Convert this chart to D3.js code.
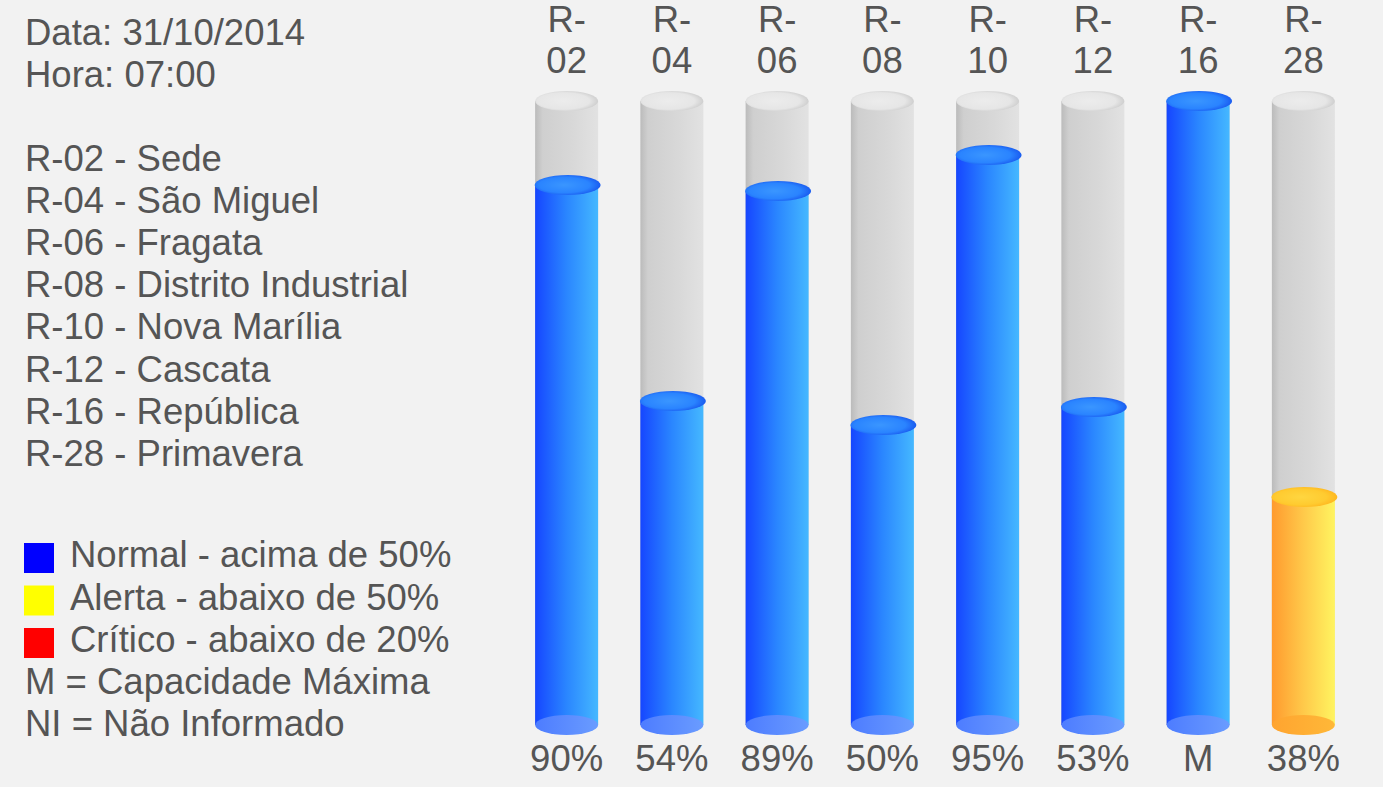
<!DOCTYPE html>
<html><head><meta charset="utf-8">
<script src="https://cdn.jsdelivr.net/npm/d3@7"></script>
<style>
html,body{margin:0;padding:0;background:#f2f2f2;}
svg{display:block;}
text{font-family:"Liberation Sans",Arial,sans-serif;fill:#555;}
</style></head>
<body>
<script>
const headerLines = ["Data: 31/10/2014", "Hora: 07:00"];
const names = ["R-02 - Sede","R-04 - São Miguel","R-06 - Fragata","R-08 - Distrito Industrial","R-10 - Nova Marília","R-12 - Cascata","R-16 - República","R-28 - Primavera"];
const legendLabels = ["Normal - acima de 50%","Alerta - abaixo de 50%","Crítico - abaixo de 20%"];
const notes = ["M = Capacidade Máxima","NI = Não Informado"];
const categories = ["R-02","R-04","R-06","R-08","R-10","R-12","R-16","R-28"];
const levels = [90,54,89,50,95,53,null,38]; // null = M (capacidade máxima)
const valueLabels = ["90%","54%","89%","50%","95%","53%","M","38%"];
const capacity = 104;

const W=1383,H=787;
const svg=d3.select("body").append("svg").attr("width",W).attr("height",H);
svg.append("rect").attr("width",W).attr("height",H).attr("fill","#f2f2f2");
const defs=svg.append("defs");
function grad(id,stops){
  const g=defs.append("linearGradient").attr("id",id).attr("x1","0%").attr("x2","100%").attr("y1","0%").attr("y2","0%");
  stops.forEach(s=>g.append("stop").attr("offset",s[0]).attr("stop-color",s[1]));
}
function rgrad(id,stops){
  const g=defs.append("radialGradient").attr("id",id).attr("cx","45%").attr("cy","50%").attr("r","55%");
  stops.forEach(s=>g.append("stop").attr("offset",s[0]).attr("stop-color",s[1]));
}
grad("gBody",[["0%","#bbbbbb"],["12%","#cfcfcf"],["60%","#d8d8d8"],["100%","#e2e2e2"]]);
rgrad("gTop",[["0%","#ececec"],["75%","#e6e6e6"],["100%","#cfcfcf"]]);
grad("bBody",[["0%","#1646ff"],["50%","#2a86ff"],["100%","#45b8ff"]]);
rgrad("bTop",[["0%","#3a96ff"],["70%","#2a84ff"],["100%","#1a5cf0"]]);
grad("bBot",[["0%","#4d7cff"],["100%","#6a9cff"]]);
grad("yBody",[["0%","#ff9a2e"],["50%","#ffc94a"],["100%","#fff460"]]);
rgrad("yTop",[["0%","#ffd640"],["70%","#ffcb30"],["100%","#ffb820"]]);
grad("yBot",[["0%","#ffa430"],["100%","#ffb838"]]);
grad("rBody",[["0%","#d00000"],["100%","#ff6060"]]);
rgrad("rTop",[["0%","#ff5050"],["100%","#e02020"]]);
grad("rBot",[["0%","#e04040"],["100%","#ff6a6a"]]);

const fs=36.5;
// left header
svg.selectAll("text.hdr").data(headerLines).join("text").attr("class","hdr")
  .attr("x",25).attr("y",(d,i)=>45+i*42).attr("font-size",fs).text(d=>d);
svg.selectAll("text.nm").data(names).join("text").attr("class","nm")
  .attr("x",25).attr("y",(d,i)=>171+i*42.1).attr("font-size",fs).text(d=>d);
const legColors=["#0000ff","#ffff00","#ff0000"];
const lg=svg.selectAll("g.lg").data(legendLabels).join("g").attr("class","lg")
  .attr("transform",(d,i)=>`translate(0,${567+i*42.5})`);
lg.append("rect").attr("x",24).attr("y",-24).attr("width",30).attr("height",30).attr("fill",(d,i)=>legColors[i]);
lg.append("text").attr("x",70).attr("y",0).attr("font-size",fs).text(d=>d);
svg.selectAll("text.note").data(notes).join("text").attr("class","note")
  .attr("x",25).attr("y",(d,i)=>694+i*42).attr("font-size",fs).text(d=>d);

// chart
const x=d3.scalePoint().domain(categories).range([514,1356]).padding(0.5);
const y=d3.scaleLinear().domain([0,100]).range([725,125]);
const cw=63, rx=cw/2, ry=10;
const data=categories.map((c,i)=>({c,v:levels[i]==null?capacity:levels[i],lab:valueLabels[i]}));
function kind(v){return v<20?"r":(v<50?"y":"b");}

const g=svg.selectAll("g.cyl").data(data).join("g").attr("class","cyl")
  .attr("transform",d=>`translate(${x(d.c)},0)`);
// empty tank
g.append("rect").attr("x",-rx).attr("y",y(capacity)).attr("width",cw).attr("height",y(0)-y(capacity)).attr("fill","url(#gBody)");
g.append("ellipse").attr("cx",0).attr("cy",y(capacity)).attr("rx",rx).attr("ry",ry).attr("fill","url(#gTop)");
// fill
g.append("rect").attr("x",-rx).attr("y",d=>y(d.v)).attr("width",cw).attr("height",d=>y(0)-y(d.v))
  .attr("fill",d=>`url(#${kind(d.v)}Body)`);
g.append("ellipse").attr("cx",0).attr("cy",y(0)).attr("rx",rx).attr("ry",ry)
  .attr("fill",d=>`url(#${kind(d.v)}Bot)`);
g.append("ellipse").attr("cx",1).attr("cy",d=>y(d.v)).attr("rx",rx+1.5).attr("ry",ry)
  .attr("fill",d=>`url(#${kind(d.v)}Top)`);
// labels
g.append("text").attr("text-anchor","middle").attr("y",32).attr("font-size",fs).text(d=>d.c.split("-")[0]+"-");
g.append("text").attr("text-anchor","middle").attr("y",73).attr("font-size",fs).text(d=>d.c.split("-")[1]);
g.append("text").attr("text-anchor","middle").attr("y",771).attr("font-size",fs).text(d=>d.lab);
</script>
</body></html>
